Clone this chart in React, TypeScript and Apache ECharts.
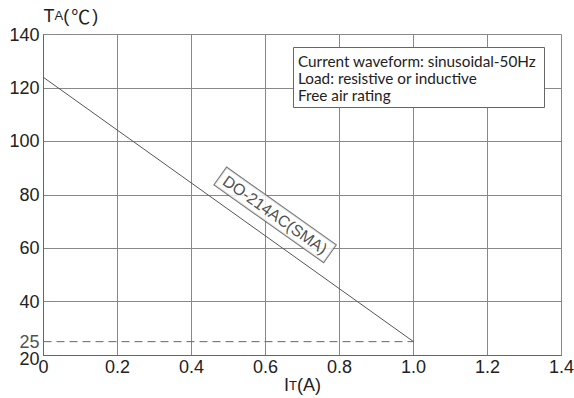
import React, { useEffect, useRef } from "react";
import * as echarts from "echarts";

// Derating curve: ambient temperature vs. average on-state current
const curveX = [0, 1.0];
const curveY = [124, 25];
// Dashed reference at 25 °C
const refX = [0, 1.0];
const refY = [25, 25];
const refLabel = "25";
// Curve annotation anchor (data units) and text
const noteAt = [0.626, 72.5];
const noteText = "DO-214AC(SMA)";
const legendLines = [
  "Current waveform: sinusoidal-50Hz",
  "Load: resistive or inductive",
  "Free air rating",
];

const FONT = "Liberation Sans, Arial, sans-serif";

export default function App() {
  const ref = useRef<HTMLDivElement>(null);
  useEffect(() => {
    if (!ref.current) return;
    const chart = echarts.init(ref.current, null, { renderer: "svg" });
    const rich = {
      b: { fontSize: 18, fontFamily: FONT, color: "#222", lineHeight: 18 },
      s: { fontSize: 13, fontFamily: FONT, color: "#222", lineHeight: 18 },
      c: { fontSize: 19, fontFamily: "'Noto Sans CJK SC', sans-serif", color: "#222", lineHeight: 18, padding: [0, 2, 0, 2] },
    };
    const option: any = {
      animation: false,
      backgroundColor: "#fff",
      title: {
        text: legendLines.join("\n"),
        left: 293,
        top: 47,
        padding: [5, 9, 5, 5],
        borderColor: "#666",
        borderWidth: 1,
        backgroundColor: "#fff",
        textStyle: {
          fontFamily: "Lato, sans-serif",
          fontSize: 15.3,
          fontWeight: "normal",
          color: "#222",
          lineHeight: 17,
        },
      },
      grid: {
        left: 43.5,
        right: 12.5,
        top: 34.7,
        bottom: 43,
        containLabel: false,
        outerBoundsMode: "none",
      },
      xAxis: {
        type: "value",
        min: 0,
        max: 1.4,
        interval: 0.2,
        name: "{b|I}{s|T}{b|(A)}",
        nameLocation: "middle",
        nameGap: 21,
        nameMoveOverlap: false,
        nameTextStyle: { rich, verticalAlign: "top" },
        axisLine: { show: true, lineStyle: { color: "#666", width: 1 } },
        axisTick: { show: false },
        splitLine: { show: true, lineStyle: { color: "#888", width: 1 } },
        axisLabel: {
          fontSize: 18,
          fontFamily: FONT,
          color: "#222",
          margin: 3,
          formatter: (v: number) => (v === 0 ? "0" : v.toFixed(1)),
        },
      },
      yAxis: {
        type: "value",
        min: 20,
        max: 140,
        interval: 20,
        name: "{b|T}{s|A}{b|(}{c|℃}{b|)}",
        nameLocation: "end",
        nameGap: 10,
        nameTextStyle: { align: "left", rich },
        axisLine: { show: true, lineStyle: { color: "#666", width: 1 } },
        axisTick: { show: false },
        splitLine: { show: true, lineStyle: { color: "#888", width: 1 } },
        axisLabel: {
          fontSize: 18,
          fontFamily: FONT,
          color: "#222",
          margin: 4,
          formatter: (v: number) => (v === 20 ? "{low|" + v + "}" : String(v)),
          rich: {
            low: { fontSize: 18, fontFamily: FONT, color: "#222", lineHeight: 16, padding: [7, 0, 0, 0] },
          },
        },
      },
      series: [
        {
          type: "line",
          data: curveX.map((x, i) => [x, curveY[i]]),
          symbol: "none",
          lineStyle: { color: "#555", width: 1 },
          z: 3,
        },
        {
          type: "line",
          data: refX.map((x, i) => [x, refY[i]]),
          symbol: "none",
          lineStyle: { color: "#666", width: 1, type: [8, 5] },
          z: 3,
        },
        {
          type: "scatter",
          symbolSize: 0,
          data: [[refX[0], refY[0]]],
          label: {
            show: true,
            position: "left",
            distance: 4,
            formatter: refLabel,
            fontSize: 18,
            lineHeight: 15,
            fontFamily: FONT,
            color: "#222",
          },
          z: 4,
        },
        {
          type: "scatter",
          symbolSize: 0,
          data: [noteAt],
          label: {
            show: true,
            position: "inside",
            rotate: -35.3,
            formatter: noteText,
            fontSize: 16,
            fontFamily: FONT,
            color: "#222",
            backgroundColor: "#fff",
            borderColor: "#555",
            borderWidth: 1,
            padding: [3, 5, 2, 5],
          },
          z: 5,
        },
      ],
    };
    chart.setOption(option);
    return () => chart.dispose();
  }, []);
  return <div ref={ref} style={{ width: 574, height: 398, position: "absolute", left: 0, top: 0 }} />;
}
